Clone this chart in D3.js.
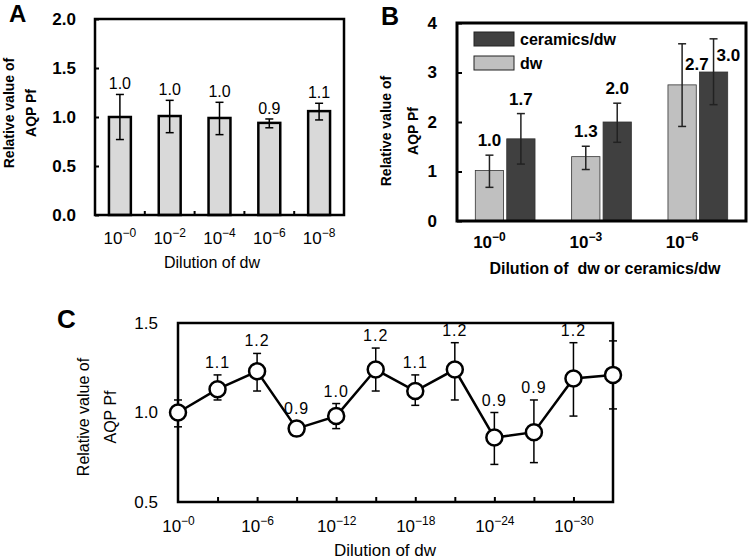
<!DOCTYPE html>
<html>
<head>
<meta charset="utf-8">
<script src="https://cdn.jsdelivr.net/npm/d3@7"></script>
<style>
  body { margin: 0; background: #fff; }
  svg { font-family: "Liberation Sans", Arial, sans-serif; }
</style>
</head>
<body>
<svg width="750" height="560"></svg>
<script>
/* panel A : dilution of dw */
var aDilution = ['0', '2', '4', '6', '8']
var aValue = [1.00, 1.01, 0.99, 0.94, 1.06]
var aHigh = [1.23, 1.17, 1.15, 0.98, 1.14]
var aLow = [0.77, 0.84, 0.82, 0.89, 0.97]
var aLabel = ['1.0', '1.0', '1.0', '0.9', '1.1']
var aTicks = [0, 0.5, 1, 1.5, 2]

/* panel B : dw vs ceramics/dw */
var bDilution = ['0', '3', '6']
var bSeries = ['dw', 'ceramics/dw']
var bDw = [1.02, 1.30, 2.75]
var bDwHigh = [1.33, 1.51, 3.58]
var bDwLow = [0.68, 1.04, 1.91]
var bCer = [1.66, 2.00, 3.01]
var bCerHigh = [2.17, 2.38, 3.68]
var bCerLow = [1.15, 1.59, 2.35]
var bDwLabel = ['1.0', '1.3', '2.7']
var bCerLabel = ['1.7', '2.0', '3.0']
var bTicks = [0, 1, 2, 3, 4]

/* panel C : serial dilution of dw */
var cExp = [0, 3, 6, 9, 12, 15, 18, 21, 24, 27, 30, 33]
var cValue = [1.00, 1.13, 1.23, 0.91, 0.98, 1.24, 1.12, 1.24, 0.86, 0.89, 1.19, 1.21]
var cHigh = [1.07, 1.21, 1.33, 0.93, 1.05, 1.36, 1.21, 1.39, 1.00, 1.07, 1.39, 1.40]
var cLow = [0.92, 1.07, 1.12, 0.89, 0.91, 1.12, 1.04, 1.07, 0.71, 0.72, 0.98, 1.02]
var cLabel = ['', '1.1', '1.2', '0.9', '1.0', '1.2', '1.1', '1.2', '0.9', '0.9', '1.2', '']
var cTickExp = [0, 6, 12, 18, 24, 30]
var cTicks = [0.5, 1.0, 1.5]

var svg = d3.select('svg')

// "10^-n" written with a raised exponent
function powText (text, exp, size) {
  text.text('')
  text.append('tspan').text('10')
  text.append('tspan').attr('dy', -7).attr('font-size', size).text('\u2212' + exp)
}

function errorBars (g, xs, hi, lo, y, cap, color) {
  xs.forEach(function (x, i) {
    var e = g.append('g').attr('stroke', color).attr('stroke-width', 1.5)
    e.append('line').attr('x1', x).attr('x2', x).attr('y1', y(hi[i])).attr('y2', y(lo[i]))
    e.append('line').attr('x1', x - cap).attr('x2', x + cap).attr('y1', y(hi[i])).attr('y2', y(hi[i]))
    e.append('line').attr('x1', x - cap).attr('x2', x + cap).attr('y1', y(lo[i])).attr('y2', y(lo[i]))
  })
}

function yTitle (x1, x2, y, size, weight) {
  ;[['Relative value of', x1], ['AQP Pf', x2]].forEach(function (t) {
    svg.append('text')
      .attr('transform', 'translate(' + t[1] + ',' + y + ') rotate(-90)')
      .attr('text-anchor', 'middle').attr('dominant-baseline', 'central')
      .attr('font-size', size).attr('font-weight', weight)
      .text(t[0])
  })
}

/* ---------------- A ---------------- */
;(function () {
  var L = 95, R = 344, T = 19, B = 215
  var x = d3.scaleBand().domain(aDilution).range([L, R]).paddingInner(0.56).paddingOuter(0.28)
  var y = d3.scaleLinear().domain([0, 2]).range([B, T])
  var g = svg.append('g')

  g.selectAll('rect.bar').data(aDilution).enter().append('rect')
    .attr('class', 'bar')
    .attr('x', function (d) { return x(d) })
    .attr('width', x.bandwidth())
    .attr('y', function (d, i) { return y(aValue[i]) })
    .attr('height', function (d, i) { return y(0) - y(aValue[i]) })
    .attr('fill', '#d9d9d9').attr('stroke', '#000').attr('stroke-width', 2.5)

  var cx = aDilution.map(function (d) { return x(d) + x.bandwidth() / 2 })
  errorBars(g, cx, aHigh, aLow, y, 4, '#000')

  g.selectAll('text.val').data(aLabel).enter().append('text')
    .attr('x', function (d, i) { return cx[i] })
    .attr('y', function (d, i) { return y(aHigh[i]) - 5 })
    .attr('text-anchor', 'middle').attr('font-size', 16)
    .text(function (d) { return d })

  // divider ticks between bars
  d3.range(1, aDilution.length).forEach(function (i) {
    var xt = L + i * x.step()
    g.append('line').attr('x1', xt).attr('x2', xt).attr('y1', B).attr('y2', B - 4)
      .attr('stroke', '#000').attr('stroke-width', 2)
  })

  g.append('rect').attr('x', L).attr('y', T).attr('width', R - L).attr('height', B - T)
    .attr('fill', 'none').attr('stroke', '#000').attr('stroke-width', 2.5)

  var ya = g.append('g').attr('transform', 'translate(' + L + ',0)')
    .call(d3.axisLeft(y).tickValues(aTicks).tickFormat(d3.format('.1f'))
      .tickSizeInner(-4).tickSizeOuter(0).tickPadding(19))
  ya.select('.domain').remove()
  ya.selectAll('line').attr('stroke-width', 2)
  ya.selectAll('text').attr('font-size', 17).attr('font-weight', 'bold').attr('fill', '#000')

  var xa = g.append('g').attr('transform', 'translate(0,' + B + ')')
    .call(d3.axisBottom(x).tickSize(0).tickPadding(17))
  xa.select('.domain').remove()
  xa.selectAll('text').attr('font-size', 17).attr('fill', '#000')
    .each(function (d) { powText(d3.select(this), d, 12) })

  svg.append('text').attr('x', 212).attr('y', 268).attr('text-anchor', 'middle')
    .attr('font-size', 16).text('Dilution of dw')
  yTitle(9, 31, 113, 14, 'bold')
  svg.append('text').attr('x', 9).attr('y', 22).attr('font-size', 24).attr('font-weight', 'bold').text('A')
})()

/* ---------------- B ---------------- */
;(function () {
  var L = 457, R = 746, T = 23, B = 221
  var x0 = d3.scaleBand().domain(bDilution).range([L, R]).paddingInner(0.38).paddingOuter(0.19)
  var x1 = d3.scaleBand().domain(bSeries).range([0, x0.bandwidth()]).paddingInner(0.1)
  var y = d3.scaleLinear().domain([0, 4]).range([B, T])
  var color = d3.scaleOrdinal().domain(bSeries).range(['#c0c0c0', '#404040'])
  var g = svg.append('g')

  var series = [
    { key: 'dw', v: bDw, hi: bDwHigh, lo: bDwLow, lab: bDwLabel },
    { key: 'ceramics/dw', v: bCer, hi: bCerHigh, lo: bCerLow, lab: bCerLabel }
  ]

  series.forEach(function (s) {
    var cx = bDilution.map(function (d) { return x0(d) + x1(s.key) + x1.bandwidth() / 2 })
    g.selectAll(null).data(bDilution).enter().append('rect')
      .attr('x', function (d) { return x0(d) + x1(s.key) })
      .attr('width', x1.bandwidth())
      .attr('y', function (d, i) { return y(s.v[i]) })
      .attr('height', function (d, i) { return y(0) - y(s.v[i]) })
      .attr('fill', color(s.key)).attr('stroke', '#333').attr('stroke-width', 0.8)
    errorBars(g, cx, s.hi, s.lo, y, 4, '#222')
    s.lab.forEach(function (t, i) {
      var ly = y(s.hi[i]) - 9
      var lx = cx[i]
      var anchor = 'middle'
      if (ly - 12 < T) {
        // no room above the whisker: put the value beside it
        ly = (y(s.hi[i]) + y(s.v[i])) / 2 + 6
        lx = cx[i] + 3
        anchor = 'start'
      }
      g.append('text').attr('x', lx).attr('y', ly).attr('text-anchor', anchor)
        .attr('font-size', 17).attr('font-weight', 'bold').text(t)
    })
  })

  g.append('rect').attr('x', L).attr('y', T).attr('width', R - L).attr('height', B - T)
    .attr('fill', 'none').attr('stroke', '#000').attr('stroke-width', 3)

  var ya = g.append('g').attr('transform', 'translate(' + L + ',0)')
    .call(d3.axisLeft(y).tickValues(bTicks).tickFormat(d3.format('d'))
      .tickSizeInner(-5).tickSizeOuter(0).tickPadding(20))
  ya.select('.domain').remove()
  ya.selectAll('line').attr('stroke-width', 2)
  ya.selectAll('text').attr('font-size', 17).attr('font-weight', 'bold').attr('fill', '#000')

  var xa = g.append('g').attr('transform', 'translate(' + (x1('dw') + x1.bandwidth() / 2 - x0.bandwidth() / 2) + ',' + B + ')')
    .call(d3.axisBottom(x0).tickSize(0).tickPadding(15))
  xa.select('.domain').remove()
  xa.selectAll('text').attr('font-size', 17).attr('font-weight', 'bold').attr('fill', '#000')
    .each(function (d) { powText(d3.select(this), d, 12) })

  // legend
  var leg = g.append('g').attr('transform', 'translate(474,32)')
  bSeries.slice().reverse().forEach(function (k, i) {
    leg.append('rect').attr('x', 0).attr('y', i * 24).attr('width', 40).attr('height', 14)
      .attr('fill', color(k)).attr('stroke', '#222').attr('stroke-width', 1)
    leg.append('text').attr('x', 46).attr('y', i * 24 + 13)
      .attr('font-size', 16).attr('font-weight', 'bold').text(k)
  })

  svg.append('text').attr('x', 605).attr('y', 274).attr('text-anchor', 'middle')
    .attr('font-size', 16).attr('font-weight', 'bold').style('white-space', 'pre')
    .text('Dilution of  dw or ceramics/dw')
  yTitle(386, 413, 131, 14, 'bold')
  svg.append('text').attr('x', 381).attr('y', 25).attr('font-size', 25).attr('font-weight', 'bold').text('B')
})()

/* ---------------- C ---------------- */
;(function () {
  var L = 178, R = 613, T = 323, B = 502
  var x = d3.scaleLinear().domain([0, 33]).range([L, R])
  var y = d3.scaleLinear().domain([0.5, 1.5]).range([B, T])
  var g = svg.append('g')

  g.append('rect').attr('x', L).attr('y', T).attr('width', R - L).attr('height', B - T)
    .attr('fill', 'none').attr('stroke', '#000').attr('stroke-width', 2.5)

  var tk = g.append('g').attr('transform', 'translate(0,' + B + ')')
    .call(d3.axisBottom(x).tickValues(cExp.slice(1, -1)).tickSizeInner(-5).tickSizeOuter(0).tickFormat(''))
  tk.select('.domain').remove()
  tk.selectAll('line').attr('stroke-width', 2)

  var xa = g.append('g').attr('transform', 'translate(0,' + B + ')')
    .call(d3.axisBottom(x).tickValues(cTickExp).tickSize(0).tickPadding(18))
  xa.select('.domain').remove()
  xa.selectAll('text').attr('font-size', 17).attr('fill', '#000')
    .each(function (d) { powText(d3.select(this), d, 12) })

  var ya = g.append('g').attr('transform', 'translate(' + L + ',0)')
    .call(d3.axisLeft(y).tickValues(cTicks).tickFormat(d3.format('.1f')).tickSize(0).tickPadding(20))
  ya.select('.domain').remove()
  ya.selectAll('text').attr('font-size', 17).attr('fill', '#000')

  var px = cExp.map(function (d) { return x(d) })
  errorBars(g, px, cHigh, cLow, y, 4, '#000')

  var line = d3.line().x(function (d, i) { return x(cExp[i]) }).y(function (d) { return y(d) })
  g.append('path').datum(cValue).attr('d', line)
    .attr('fill', 'none').attr('stroke', '#000').attr('stroke-width', 2.5)

  g.selectAll('circle').data(cValue).enter().append('circle')
    .attr('cx', function (d, i) { return px[i] })
    .attr('cy', function (d) { return y(d) })
    .attr('r', 8).attr('fill', '#fff').attr('stroke', '#000').attr('stroke-width', 2.5)

  g.selectAll('text.val').data(cLabel).enter().append('text')
    .attr('x', function (d, i) { return px[i] })
    .attr('y', function (d, i) { return Math.min(y(cHigh[i]), y(cValue[i]) - 8) - 7 })
    .attr('text-anchor', 'middle').attr('font-size', 16).attr('letter-spacing', 1)
    .text(function (d) { return d })

  svg.append('text').attr('x', 385).attr('y', 556).attr('text-anchor', 'middle')
    .attr('font-size', 17).text('Dilution of dw')
  yTitle(83, 110, 417, 16, 'normal')
  svg.append('text').attr('x', 57).attr('y', 328).attr('font-size', 26).attr('font-weight', 'bold').text('C')
})()
</script>
</body>
</html>
